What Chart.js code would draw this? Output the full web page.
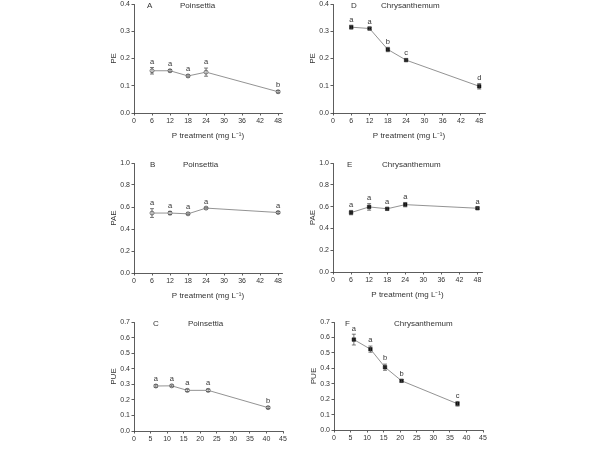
<!DOCTYPE html>
<html>
<head>
<meta charset="utf-8">
<script src="https://cdn.jsdelivr.net/npm/chart.js@4"></script>
<style>
  body { margin: 0; background: #fff; }
  #wrap { position: relative; width: 600px; height: 450px; overflow: hidden; }
  #wrap canvas { position: absolute; }
</style>
</head>
<body>
<div id="wrap"></div>
<script>
// x values
const pTreatment = [6, 12, 18, 24, 48];
const poinsettiaUptake = [6.6, 11.4, 16.1, 22.4, 40.5];
const chrysUptake = [6.0, 11.0, 15.4, 20.4, 37.3];

// PE
const poinsettiaPE = [0.155, 0.155, 0.136, 0.150, 0.078];
const poinsettiaPEErr = [0.012, 0.004, 0.004, 0.015, 0.004];
const poinsettiaPELetters = ['a', 'a', 'a', 'a', 'b'];
const chrysPE = [0.315, 0.310, 0.233, 0.194, 0.098];
const chrysPEErr = [0.007, 0.004, 0.008, 0.004, 0.010];
const chrysPELetters = ['a', 'a', 'b', 'c', 'd'];

// PAE
const poinsettiaPAE = [0.545, 0.545, 0.538, 0.590, 0.550];
const poinsettiaPAEErr = [0.040, 0.015, 0.008, 0.008, 0.008];
const poinsettiaPAELetters = ['a', 'a', 'a', 'a', 'a'];
const chrysPAE = [0.545, 0.597, 0.580, 0.618, 0.585];
const chrysPAEErr = [0.020, 0.030, 0.012, 0.020, 0.008];
const chrysPAELetters = ['a', 'a', 'a', 'a', 'a'];

// PUE
const poinsettiaPUE = [0.289, 0.290, 0.261, 0.261, 0.150];
const poinsettiaPUEErr = [0.008, 0.006, 0.008, 0.008, 0.006];
const poinsettiaPUELetters = ['a', 'a', 'a', 'a', 'b'];
const chrysPUE = [0.586, 0.524, 0.407, 0.319, 0.170];
const chrysPUEErr = [0.035, 0.020, 0.020, 0.008, 0.015];
const chrysPUELetters = ['a', 'a', 'b', 'b', 'c'];

// tick labels
const treatmentTicks = [0, 6, 12, 18, 24, 30, 36, 42, 48];
const uptakeTicks = [0, 5, 10, 15, 20, 25, 30, 35, 40, 45];
const peTicks = [0, 0.1, 0.2, 0.3, 0.4];
const paeTicks = [0, 0.2, 0.4, 0.6, 0.8, 1.0];
const pueTicks = [0, 0.1, 0.2, 0.3, 0.4, 0.5, 0.6, 0.7];

const FONT = "'Liberation Sans', Arial, sans-serif";
const INK = '#333';
const Y_W = 34, X_H = 28, PAD_T = 6, PAD_R = 8;

// error bars + significance letters
const errPlugin = {
    id: 'errLetters',
    afterDatasetsDraw(chart, args, opts) {
        const { ctx } = chart;
        const xs = chart.scales.x, ys = chart.scales.y;
        const ds = chart.data.datasets[0];
        ctx.save();
        ctx.strokeStyle = '#444';
        ctx.lineWidth = 0.7;
        ctx.fillStyle = INK;
        ctx.font = '7.5px ' + FONT;
        ctx.textAlign = 'center';
        ctx.textBaseline = 'bottom';
        ds.data.forEach((p, i) => {
            const x = xs.getPixelForValue(p.x);
            const e = opts.err[i];
            const top = ys.getPixelForValue(p.y + e);
            const bot = ys.getPixelForValue(p.y - e);
            ctx.beginPath();
            ctx.moveTo(x, top); ctx.lineTo(x, bot);
            ctx.moveTo(x - 2, top); ctx.lineTo(x + 2, top);
            ctx.moveTo(x - 2, bot); ctx.lineTo(x + 2, bot);
            ctx.stroke();
            ctx.fillText(opts.letters[i], x, top - 2);
        });
        ctx.restore();
    }
};

// panel letter and species name
const labelPlugin = {
    id: 'panelLabel',
    afterDraw(chart, args, opts) {
        const { ctx, chartArea } = chart;
        ctx.save();
        ctx.fillStyle = INK;
        ctx.font = '8px ' + FONT;
        ctx.textBaseline = 'middle';
        ctx.textAlign = 'left';
        ctx.fillText(opts.letter, chartArea.left + opts.lx, chartArea.top + 2);
        ctx.fillText(opts.species, chartArea.left + opts.sx, chartArea.top + 2);
        ctx.restore();
    }
};

function makePanel(p) {
    const canvas = document.createElement('canvas');
    const w = p.r - p.l + Y_W + PAD_R;
    const h = p.b - p.t + PAD_T + X_H;
    canvas.width = w;
    canvas.height = h;
    canvas.style.left = (p.l - Y_W) + 'px';
    canvas.style.top = (p.t - PAD_T) + 'px';
    document.getElementById('wrap').appendChild(canvas);

    const filled = p.species === 'Chrysanthemum';
    new Chart(canvas, {
        type: 'scatter',
        data: {
            datasets: [{
                data: p.xs.map((x, i) => ({ x: x, y: p.ys[i] })),
                showLine: true,
                borderColor: '#777',
                borderWidth: 0.8,
                pointStyle: filled ? 'rect' : 'circle',
                pointRadius: filled ? 2.5 : 2,
                pointBorderColor: filled ? '#111' : '#555',
                pointBorderWidth: filled ? 0.5 : 0.8,
                pointBackgroundColor: filled ? '#111' : '#fff'
            }]
        },
        options: {
            responsive: false,
            animation: false,
            layout: { padding: { top: PAD_T, right: PAD_R, left: 0, bottom: 0 } },
            plugins: {
                legend: { display: false },
                tooltip: { enabled: false },
                errLetters: { err: p.err, letters: p.letters },
                panelLabel: { letter: p.letter, species: p.species, lx: p.lx, sx: p.sx }
            },
            scales: {
                x: {
                    type: 'linear',
                    min: 0,
                    max: p.xmax,
                    afterBuildTicks: s => { s.ticks = p.xticks.map(v => ({ value: v })); },
                    afterFit: s => { s.height = X_H; },
                    grid: { drawOnChartArea: false, tickLength: 2.5, color: INK, lineWidth: 0.8 },
                    border: { color: INK, width: 0.8 },
                    ticks: { color: INK, padding: 1, maxRotation: 0, font: { family: FONT, size: 7 } },
                    title: { display: true, text: p.xtitle, color: INK, padding: { top: 1, bottom: 0 }, font: { family: FONT, size: 8 } }
                },
                y: {
                    min: 0,
                    max: p.ymax,
                    afterBuildTicks: s => { s.ticks = p.yticks.map(v => ({ value: v })); },
                    afterFit: s => { s.width = Y_W; },
                    grid: { drawOnChartArea: false, tickLength: 2.5, color: INK, lineWidth: 0.8 },
                    border: { color: INK, width: 0.8 },
                    ticks: { color: INK, padding: 1.5, callback: v => v.toFixed(1), font: { family: FONT, size: 7 } },
                    title: { display: true, text: p.ytitle, color: INK, padding: { top: 9, bottom: 0 }, font: { family: FONT, size: 8 } }
                }
            }
        },
        plugins: [errPlugin, labelPlugin]
    });
}

const treatTitle = 'P treatment (mg L\u207B\u00B9)';
const uptakeTitle = 'Shoot P uptake (mg)';

makePanel({ l: 134, t: 4, r: 282, b: 113, xs: pTreatment, ys: poinsettiaPE, err: poinsettiaPEErr, letters: poinsettiaPELetters,
    xmax: 49.3, xticks: treatmentTicks, ymax: 0.4, yticks: peTicks, xtitle: treatTitle, ytitle: 'PE',
    letter: 'A', species: 'Poinsettia', lx: 13, sx: 46 });
makePanel({ l: 333, t: 4, r: 485, b: 113, xs: pTreatment, ys: chrysPE, err: chrysPEErr, letters: chrysPELetters,
    xmax: 49.9, xticks: treatmentTicks, ymax: 0.4, yticks: peTicks, xtitle: treatTitle, ytitle: 'PE',
    letter: 'D', species: 'Chrysanthemum', lx: 18, sx: 48 });
makePanel({ l: 134, t: 163, r: 282, b: 273, xs: pTreatment, ys: poinsettiaPAE, err: poinsettiaPAEErr, letters: poinsettiaPAELetters,
    xmax: 49.3, xticks: treatmentTicks, ymax: 1.0, yticks: paeTicks, xtitle: treatTitle, ytitle: 'PAE',
    letter: 'B', species: 'Poinsettia', lx: 16, sx: 49 });
makePanel({ l: 333, t: 163, r: 482, b: 272, xs: pTreatment, ys: chrysPAE, err: chrysPAEErr, letters: chrysPAELetters,
    xmax: 49.5, xticks: treatmentTicks, ymax: 1.0, yticks: paeTicks, xtitle: treatTitle, ytitle: 'PAE',
    letter: 'E', species: 'Chrysanthemum', lx: 14, sx: 49 });
makePanel({ l: 134, t: 322, r: 283, b: 431, xs: poinsettiaUptake, ys: poinsettiaPUE, err: poinsettiaPUEErr, letters: poinsettiaPUELetters,
    xmax: 45, xticks: uptakeTicks, ymax: 0.7, yticks: pueTicks, xtitle: uptakeTitle, ytitle: 'PUE',
    letter: 'C', species: 'Poinsettia', lx: 19, sx: 54 });
makePanel({ l: 334, t: 322, r: 483, b: 430, xs: chrysUptake, ys: chrysPUE, err: chrysPUEErr, letters: chrysPUELetters,
    xmax: 45, xticks: uptakeTicks, ymax: 0.7, yticks: pueTicks, xtitle: uptakeTitle, ytitle: 'PUE',
    letter: 'F', species: 'Chrysanthemum', lx: 11, sx: 60 });
</script>
</body>
</html>
